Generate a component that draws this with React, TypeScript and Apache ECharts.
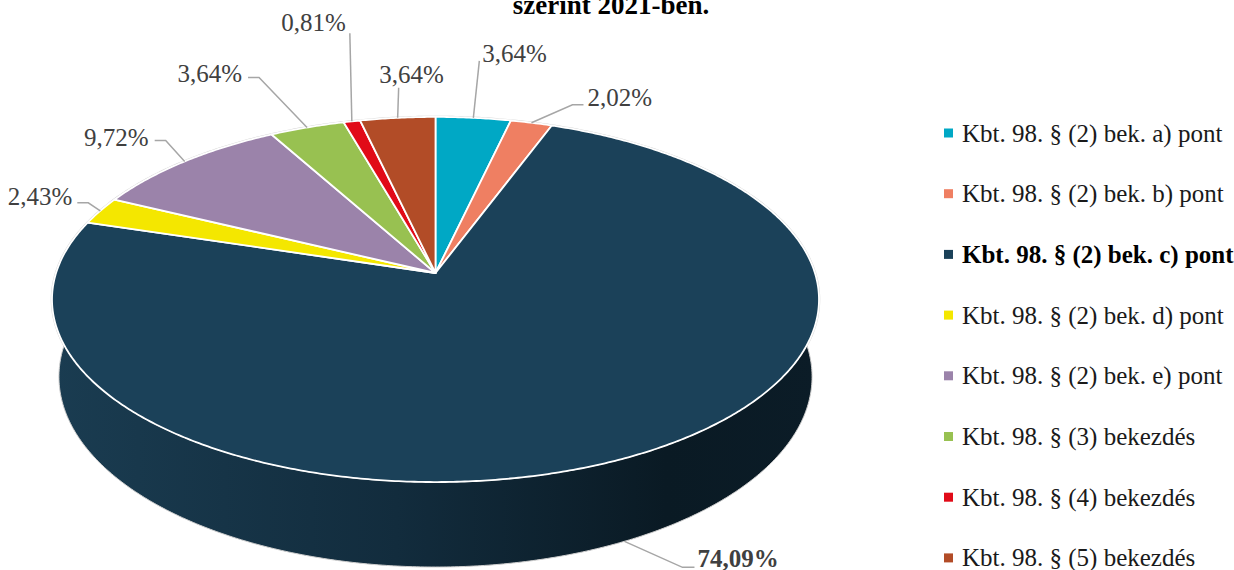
import React, { useEffect, useRef } from "react";
import * as echarts from "echarts";

// ---------- data ----------
const CATEGORIES = [
  "Kbt. 98. § (2) bek. a) pont",
  "Kbt. 98. § (2) bek. b) pont",
  "Kbt. 98. § (2) bek. c) pont",
  "Kbt. 98. § (2) bek. d) pont",
  "Kbt. 98. § (2) bek. e) pont",
  "Kbt. 98. § (3) bekezdés",
  "Kbt. 98. § (4) bekezdés",
  "Kbt. 98. § (5) bekezdés",
];
const PERCENTS = [3.64, 2.02, 74.09, 2.43, 9.72, 3.64, 0.81, 3.64];
const TITLE_TAIL = "szerint 2021-ben.";

// ---------- styles / layout ----------
const COLORS = ["#00a8c5", "#ef7f62", "#1b4159", "#f4e700", "#9b83aa", "#98c151", "#e10b18", "#b24c27"];
const BOLD_INDEX = 2;
const SERIF = '"Liberation Serif", "DejaVu Serif", serif';

// pseudo-3D projection parameters (pixels)
const CX = 435.5;
const CY = 273;
const FOCAL = 2307;
const DIST = 6.08;
const SIN_A = 0.471;
const COS_A = 0.882;
const DEPTH = 0.233;
const DEG = Math.PI / 180;

// label leader layout relative to the slice anchor
const LABEL_LAYOUT: { line: number[][]; text: number[]; align: string }[] = [
  { line: [[0, 0], [6, -57]], text: [9, -64], align: "left" },
  { line: [[0, 0], [41, -18], [52, -18]], text: [56, -25], align: "left" },
  { line: [[0, 0], [58, 26], [70, 26]], text: [73, 17], align: "left" },
  { line: [[0, 0], [-12, -8], [-23, -8]], text: [-28, -14], align: "right" },
  { line: [[0, 0], [-19, -21], [-30, -21]], text: [-36, -24], align: "right" },
  { line: [[0, 0], [-48, -50], [-59, -50]], text: [-65, -54], align: "right" },
  { line: [[0, 0], [-2, -88]], text: [-6, -99], align: "right" },
  { line: [[0, 0], [1, -30]], text: [14, -43], align: "center" },
];

function project(theta: number, level: number): number[] {
  const x = Math.sin(theta);
  const z = -Math.cos(theta);
  const y = -DEPTH * level;
  const d = DIST - (y * SIN_A + z * COS_A);
  return [CX + (FOCAL * x) / d, CY + (FOCAL * (z * SIN_A - y * COS_A)) / d];
}

function arc(t0: number, t1: number, level: number): number[][] {
  const n = Math.max(2, Math.ceil(Math.abs(t1 - t0) / (0.5 * DEG)));
  const pts: number[][] = [];
  for (let k = 0; k <= n; k++) pts.push(project(t0 + ((t1 - t0) * k) / n, level));
  return pts;
}

function sliceRange(i: number): number[] {
  const total = PERCENTS.reduce((a, b) => a + b, 0);
  let s = 0;
  for (let k = 0; k < i; k++) s += PERCENTS[k];
  return [(s / total) * Math.PI * 2, ((s + PERCENTS[i]) / total) * Math.PI * 2];
}

function fmt(v: number): string {
  return v.toFixed(2).replace(".", ",") + "%";
}

export default function App() {
  const ref = useRef<HTMLDivElement>(null);

  useEffect(() => {
    if (!ref.current) return;
    const chart = echarts.init(ref.current, null, { renderer: "svg" });

    const wallGradient = new echarts.graphic.LinearGradient(0, 0, 1, 0, [
      { offset: 0, color: "#1a3c51" },
      { offset: 0.45, color: "#122c3d" },
      { offset: 0.8, color: "#0a1a24" },
      { offset: 1, color: "#0b1c27" },
    ]);

    const renderWall = (params: any, api: any) => {
      const i = params.dataIndex;
      const [t0, t1] = sliceRange(i);
      const children: any[] = [];
      if (i === 0) {
        children.push({
          type: "polygon",
          shape: { points: arc(0, Math.PI * 2, 0) },
          style: { fill: "none", stroke: "#d4d4d4", lineWidth: 2.5 },
        });
      }
      const a = Math.max(t0, 80 * DEG);
      const b = Math.min(t1, 280 * DEG);
      if (b > a && api.value(0) > 0) {
        const top = arc(a, b, 0);
        const bottom = arc(a, b, 1).reverse();
        children.push({
          type: "polygon",
          shape: { points: top.concat(bottom) },
          style: { fill: wallGradient, stroke: "#cfcfcf", lineWidth: 1 },
        });
      }
      return { type: "group", children };
    };

    const renderTop = (params: any, api: any) => {
      const i = params.dataIndex;
      const v = api.value(0);
      const [t0, t1] = sliceRange(i);
      const pts = [[CX, CY]].concat(arc(t0, t1, 0));
      const mid = (t0 + t1) / 2;
      const front = mid > 90 * DEG && mid < 270 * DEG;
      const anchor = project(mid, front ? 1 : 0);
      const lay = LABEL_LAYOUT[i];
      const linePts = lay.line.map((p) => [anchor[0] + p[0], anchor[1] + p[1]]);
      const bold = i === BOLD_INDEX;
      return {
        type: "group",
        children: [
          {
            type: "polygon",
            shape: { points: pts },
            style: { fill: COLORS[i], stroke: "#ffffff", lineWidth: 1.8, lineJoin: "round" },
          },
          {
            type: "polyline",
            shape: { points: linePts },
            style: { fill: "none", stroke: "#a6a6a6", lineWidth: 1.5 },
          },
          {
            type: "text",
            x: anchor[0] + lay.text[0],
            y: anchor[1] + lay.text[1],
            style: {
              text: fmt(v),
              font: (bold ? "bold " : "") + "25px " + SERIF,
              fill: "#404040",
              align: lay.align,
              textAlign: lay.align,
              verticalAlign: "middle",
              textVerticalAlign: "middle",
            },
          },
        ],
      };
    };

    chart.setOption({
      animation: false,
      backgroundColor: "#ffffff",
      graphic: [
        {
          type: "text",
          x: 611,
          y: 18,
          style: {
            text: TITLE_TAIL,
            font: "bold 27px " + SERIF,
            fill: "#000000",
            align: "center",
            textAlign: "center",
            verticalAlign: "bottom",
            textVerticalAlign: "bottom",
          },
        },
      ],
      legend: {
        orient: "vertical",
        left: 944,
        top: 120.5,
        height: 470,
        padding: 0,
        itemWidth: 9,
        itemHeight: 9,
        itemGap: 35.7,
        icon: "rect",
        selectedMode: false,
        textStyle: {
          fontFamily: SERIF,
          fontSize: 25,
          color: "#1a1a1a",
          padding: [0, 0, 0, 4],
        },
        data: CATEGORIES.map((n, i) =>
          i === BOLD_INDEX ? { name: n, textStyle: { fontWeight: "bold", color: "#000000" } } : { name: n }
        ),
      },
      series: [
        {
          type: "custom",
          coordinateSystem: "none",
          silent: true,
          z: 1,
          data: PERCENTS.map((v) => [v]),
          renderItem: renderWall,
        },
        {
          type: "custom",
          coordinateSystem: "none",
          silent: true,
          z: 2,
          data: PERCENTS.map((v) => [v]),
          renderItem: renderTop,
        },
        {
          type: "pie",
          silent: true,
          radius: 0,
          center: [-50, -50],
          label: { show: false },
          labelLine: { show: false },
          data: CATEGORIES.map((n, i) => ({ name: n, value: PERCENTS[i], itemStyle: { color: COLORS[i] } })),
        },
      ],
    });

    return () => chart.dispose();
  }, []);

  return (
    <div
      ref={ref}
      style={{ position: "fixed", left: 0, top: 0, width: 1234, height: 570, background: "#fff" }}
    />
  );
}
